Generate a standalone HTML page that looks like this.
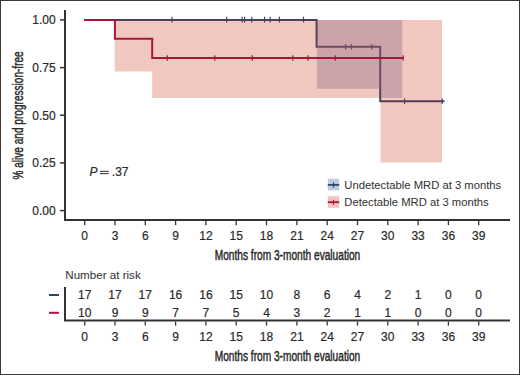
<!DOCTYPE html>
<html><head><meta charset="utf-8"><style>
html,body{margin:0;padding:0;background:#fff;}
svg{display:block;}
text{font-family:"Liberation Sans", sans-serif;fill:#2a2a2a;stroke:#2a2a2a;stroke-width:0.2px;}
.l{stroke:none;fill:#303030;}
.c{stroke:#2a2a2a;stroke-width:0.45px;}
</style></head><body>
<svg width="520" height="375" viewBox="0 0 520 375">
<rect x="0.5" y="0.5" width="519" height="374" fill="#fff" stroke="#3a3a3a" stroke-width="1"/>
<path d="M84.2 19.9 H316.6 V46.8 H380.2 V101.3 H444.5" fill="none" stroke="#34466E" stroke-width="2"/>
<line x1="172" x2="172" y1="16.7" y2="22.4" stroke="#34466E" stroke-width="1.2"/>
<line x1="226.7" x2="226.7" y1="16.7" y2="22.4" stroke="#34466E" stroke-width="1.2"/>
<line x1="242.2" x2="242.2" y1="16.7" y2="22.4" stroke="#34466E" stroke-width="1.2"/>
<line x1="244.6" x2="244.6" y1="16.7" y2="22.4" stroke="#34466E" stroke-width="1.2"/>
<line x1="251.8" x2="251.8" y1="16.7" y2="22.4" stroke="#34466E" stroke-width="1.2"/>
<line x1="264.6" x2="264.6" y1="16.7" y2="22.4" stroke="#34466E" stroke-width="1.2"/>
<line x1="270.1" x2="270.1" y1="16.7" y2="22.4" stroke="#34466E" stroke-width="1.2"/>
<line x1="279.4" x2="279.4" y1="16.7" y2="22.4" stroke="#34466E" stroke-width="1.2"/>
<line x1="303.5" x2="303.5" y1="16.7" y2="22.4" stroke="#34466E" stroke-width="1.2"/>
<line x1="345.6" x2="345.6" y1="44" y2="49.6" stroke="#34466E" stroke-width="1.2"/>
<line x1="351.3" x2="351.3" y1="44" y2="49.6" stroke="#34466E" stroke-width="1.2"/>
<line x1="371.7" x2="371.7" y1="44" y2="49.6" stroke="#34466E" stroke-width="1.2"/>
<line x1="404.6" x2="404.6" y1="98.5" y2="104.1" stroke="#34466E" stroke-width="1.2"/>
<line x1="442.2" x2="442.2" y1="98.5" y2="104.1" stroke="#34466E" stroke-width="1.2"/>
<path d="M114.7 19.9 H442.1 V162.5 H380.6 V97.9 H152.2 V71.4 H114.7 Z" fill="rgba(195,35,0,0.25)"/>
<path d="M316.9 19.9 H402.2 V97.9 H380.6 V88.7 H316.9 Z" fill="rgba(143,103,132,0.38)"/>
<path d="M84.2 19.9 H114.9 V38.8 H152.2 V58.0 H403.6" fill="none" stroke="#A8163A" stroke-width="2"/>
<line x1="167.3" x2="167.3" y1="55.2" y2="60.8" stroke="#A8163A" stroke-width="1.2"/>
<line x1="214.8" x2="214.8" y1="55.2" y2="60.8" stroke="#A8163A" stroke-width="1.2"/>
<line x1="252.3" x2="252.3" y1="55.2" y2="60.8" stroke="#A8163A" stroke-width="1.2"/>
<line x1="292.8" x2="292.8" y1="55.2" y2="60.8" stroke="#A8163A" stroke-width="1.2"/>
<line x1="308.1" x2="308.1" y1="55.2" y2="60.8" stroke="#A8163A" stroke-width="1.2"/>
<line x1="335.2" x2="335.2" y1="55.2" y2="60.8" stroke="#A8163A" stroke-width="1.2"/>
<line x1="403.2" x2="403.2" y1="55.2" y2="60.8" stroke="#A8163A" stroke-width="1.2"/>
<path d="M65 10 V220 H510" fill="none" stroke="#333" stroke-width="2"/>
<line x1="60" x2="64" y1="19.9" y2="19.9" stroke="#333" stroke-width="1.5"/>
<text x="55.6" y="24.1" text-anchor="end" font-size="12">1.00</text>
<line x1="60" x2="64" y1="67.6" y2="67.6" stroke="#333" stroke-width="1.5"/>
<text x="55.6" y="71.8" text-anchor="end" font-size="12">0.75</text>
<line x1="60" x2="64" y1="115.2" y2="115.2" stroke="#333" stroke-width="1.5"/>
<text x="55.6" y="119.5" text-anchor="end" font-size="12">0.50</text>
<line x1="60" x2="64" y1="162.9" y2="162.9" stroke="#333" stroke-width="1.5"/>
<text x="55.6" y="167.1" text-anchor="end" font-size="12">0.25</text>
<line x1="60" x2="64" y1="210.6" y2="210.6" stroke="#333" stroke-width="1.5"/>
<text x="55.6" y="214.8" text-anchor="end" font-size="12">0.00</text>
<line x1="84.7" x2="84.7" y1="221" y2="225.2" stroke="#333" stroke-width="1.3"/>
<text x="84.7" y="240" text-anchor="middle" font-size="12">0</text>
<line x1="115.0" x2="115.0" y1="221" y2="225.2" stroke="#333" stroke-width="1.3"/>
<text x="115.0" y="240" text-anchor="middle" font-size="12">3</text>
<line x1="145.3" x2="145.3" y1="221" y2="225.2" stroke="#333" stroke-width="1.3"/>
<text x="145.3" y="240" text-anchor="middle" font-size="12">6</text>
<line x1="175.6" x2="175.6" y1="221" y2="225.2" stroke="#333" stroke-width="1.3"/>
<text x="175.6" y="240" text-anchor="middle" font-size="12">9</text>
<line x1="205.9" x2="205.9" y1="221" y2="225.2" stroke="#333" stroke-width="1.3"/>
<text x="205.9" y="240" text-anchor="middle" font-size="12">12</text>
<line x1="236.2" x2="236.2" y1="221" y2="225.2" stroke="#333" stroke-width="1.3"/>
<text x="236.2" y="240" text-anchor="middle" font-size="12">15</text>
<line x1="266.5" x2="266.5" y1="221" y2="225.2" stroke="#333" stroke-width="1.3"/>
<text x="266.5" y="240" text-anchor="middle" font-size="12">18</text>
<line x1="296.9" x2="296.9" y1="221" y2="225.2" stroke="#333" stroke-width="1.3"/>
<text x="296.9" y="240" text-anchor="middle" font-size="12">21</text>
<line x1="327.2" x2="327.2" y1="221" y2="225.2" stroke="#333" stroke-width="1.3"/>
<text x="327.2" y="240" text-anchor="middle" font-size="12">24</text>
<line x1="357.5" x2="357.5" y1="221" y2="225.2" stroke="#333" stroke-width="1.3"/>
<text x="357.5" y="240" text-anchor="middle" font-size="12">27</text>
<line x1="387.8" x2="387.8" y1="221" y2="225.2" stroke="#333" stroke-width="1.3"/>
<text x="387.8" y="240" text-anchor="middle" font-size="12">30</text>
<line x1="418.1" x2="418.1" y1="221" y2="225.2" stroke="#333" stroke-width="1.3"/>
<text x="418.1" y="240" text-anchor="middle" font-size="12">33</text>
<line x1="448.4" x2="448.4" y1="221" y2="225.2" stroke="#333" stroke-width="1.3"/>
<text x="448.4" y="240" text-anchor="middle" font-size="12">36</text>
<line x1="478.7" x2="478.7" y1="221" y2="225.2" stroke="#333" stroke-width="1.3"/>
<text x="478.7" y="240" text-anchor="middle" font-size="12">39</text>
<text transform="translate(287.5 260) scale(0.7355 1)" text-anchor="middle" font-size="13.8" class="c">Months from 3-month evaluation</text>
<text transform="translate(22.8 115.4) rotate(-90) scale(0.730 1)" text-anchor="middle" font-size="13.8" class="c">% alive and progression-free</text>
<text x="89.6" y="175.9" font-size="12" font-style="italic">P</text>
<line x1="100" x2="108.8" y1="171.35" y2="171.35" stroke="#2a2a2a" stroke-width="1"/>
<line x1="100" x2="108.8" y1="173.65" y2="173.65" stroke="#2a2a2a" stroke-width="1"/>
<text x="111.8" y="175.9" font-size="12">.37</text>
<rect x="327.8" y="178.8" width="11.4" height="11.6" fill="#BCCBE0"/>
<line x1="327.8" x2="339.2" y1="184.9" y2="184.9" stroke="#34466E" stroke-width="1.8"/>
<line x1="333.5" x2="333.5" y1="182.5" y2="187.6" stroke="#34466E" stroke-width="1.2"/>
<rect x="327.8" y="196.2" width="11.4" height="11.6" fill="#F5C2C2"/>
<line x1="327.8" x2="339.2" y1="202.2" y2="202.2" stroke="#A8163A" stroke-width="1.8"/>
<line x1="333.5" x2="333.5" y1="199.8" y2="204.8" stroke="#A8163A" stroke-width="1.2"/>
<text x="344.3" y="188.6" font-size="11.25" class="l">Undetectable MRD at 3 months</text>
<text x="344.3" y="206" font-size="11.25" class="l">Detectable MRD at 3 months</text>
<text x="65.3" y="278.7" font-size="11.6" class="l">Number at risk</text>
<line x1="49" x2="59" y1="295" y2="295" stroke="#2B4868" stroke-width="2"/>
<line x1="49" x2="59" y1="312.8" y2="312.8" stroke="#B0143E" stroke-width="2"/>
<path d="M65 287 V320.6 H510" fill="none" stroke="#333" stroke-width="2"/>
<text x="84.7" y="298.7" text-anchor="middle" font-size="12">17</text>
<text x="84.7" y="316.7" text-anchor="middle" font-size="12">10</text>
<line x1="84.7" x2="84.7" y1="321.6" y2="325.6" stroke="#333" stroke-width="1.3"/>
<text x="84.7" y="341.2" text-anchor="middle" font-size="12">0</text>
<text x="115.0" y="298.7" text-anchor="middle" font-size="12">17</text>
<text x="115.0" y="316.7" text-anchor="middle" font-size="12">9</text>
<line x1="115.0" x2="115.0" y1="321.6" y2="325.6" stroke="#333" stroke-width="1.3"/>
<text x="115.0" y="341.2" text-anchor="middle" font-size="12">3</text>
<text x="145.3" y="298.7" text-anchor="middle" font-size="12">17</text>
<text x="145.3" y="316.7" text-anchor="middle" font-size="12">9</text>
<line x1="145.3" x2="145.3" y1="321.6" y2="325.6" stroke="#333" stroke-width="1.3"/>
<text x="145.3" y="341.2" text-anchor="middle" font-size="12">6</text>
<text x="175.6" y="298.7" text-anchor="middle" font-size="12">16</text>
<text x="175.6" y="316.7" text-anchor="middle" font-size="12">7</text>
<line x1="175.6" x2="175.6" y1="321.6" y2="325.6" stroke="#333" stroke-width="1.3"/>
<text x="175.6" y="341.2" text-anchor="middle" font-size="12">9</text>
<text x="205.9" y="298.7" text-anchor="middle" font-size="12">16</text>
<text x="205.9" y="316.7" text-anchor="middle" font-size="12">7</text>
<line x1="205.9" x2="205.9" y1="321.6" y2="325.6" stroke="#333" stroke-width="1.3"/>
<text x="205.9" y="341.2" text-anchor="middle" font-size="12">12</text>
<text x="236.2" y="298.7" text-anchor="middle" font-size="12">15</text>
<text x="236.2" y="316.7" text-anchor="middle" font-size="12">5</text>
<line x1="236.2" x2="236.2" y1="321.6" y2="325.6" stroke="#333" stroke-width="1.3"/>
<text x="236.2" y="341.2" text-anchor="middle" font-size="12">15</text>
<text x="266.5" y="298.7" text-anchor="middle" font-size="12">10</text>
<text x="266.5" y="316.7" text-anchor="middle" font-size="12">4</text>
<line x1="266.5" x2="266.5" y1="321.6" y2="325.6" stroke="#333" stroke-width="1.3"/>
<text x="266.5" y="341.2" text-anchor="middle" font-size="12">18</text>
<text x="296.9" y="298.7" text-anchor="middle" font-size="12">8</text>
<text x="296.9" y="316.7" text-anchor="middle" font-size="12">3</text>
<line x1="296.9" x2="296.9" y1="321.6" y2="325.6" stroke="#333" stroke-width="1.3"/>
<text x="296.9" y="341.2" text-anchor="middle" font-size="12">21</text>
<text x="327.2" y="298.7" text-anchor="middle" font-size="12">6</text>
<text x="327.2" y="316.7" text-anchor="middle" font-size="12">2</text>
<line x1="327.2" x2="327.2" y1="321.6" y2="325.6" stroke="#333" stroke-width="1.3"/>
<text x="327.2" y="341.2" text-anchor="middle" font-size="12">24</text>
<text x="357.5" y="298.7" text-anchor="middle" font-size="12">4</text>
<text x="357.5" y="316.7" text-anchor="middle" font-size="12">1</text>
<line x1="357.5" x2="357.5" y1="321.6" y2="325.6" stroke="#333" stroke-width="1.3"/>
<text x="357.5" y="341.2" text-anchor="middle" font-size="12">27</text>
<text x="387.8" y="298.7" text-anchor="middle" font-size="12">2</text>
<text x="387.8" y="316.7" text-anchor="middle" font-size="12">1</text>
<line x1="387.8" x2="387.8" y1="321.6" y2="325.6" stroke="#333" stroke-width="1.3"/>
<text x="387.8" y="341.2" text-anchor="middle" font-size="12">30</text>
<text x="418.1" y="298.7" text-anchor="middle" font-size="12">1</text>
<text x="418.1" y="316.7" text-anchor="middle" font-size="12">0</text>
<line x1="418.1" x2="418.1" y1="321.6" y2="325.6" stroke="#333" stroke-width="1.3"/>
<text x="418.1" y="341.2" text-anchor="middle" font-size="12">33</text>
<text x="448.4" y="298.7" text-anchor="middle" font-size="12">0</text>
<text x="448.4" y="316.7" text-anchor="middle" font-size="12">0</text>
<line x1="448.4" x2="448.4" y1="321.6" y2="325.6" stroke="#333" stroke-width="1.3"/>
<text x="448.4" y="341.2" text-anchor="middle" font-size="12">36</text>
<text x="478.7" y="298.7" text-anchor="middle" font-size="12">0</text>
<text x="478.7" y="316.7" text-anchor="middle" font-size="12">0</text>
<line x1="478.7" x2="478.7" y1="321.6" y2="325.6" stroke="#333" stroke-width="1.3"/>
<text x="478.7" y="341.2" text-anchor="middle" font-size="12">39</text>
<text transform="translate(287.5 361) scale(0.7355 1)" text-anchor="middle" font-size="13.8" class="c">Months from 3-month evaluation</text>
</svg>
</body></html>
